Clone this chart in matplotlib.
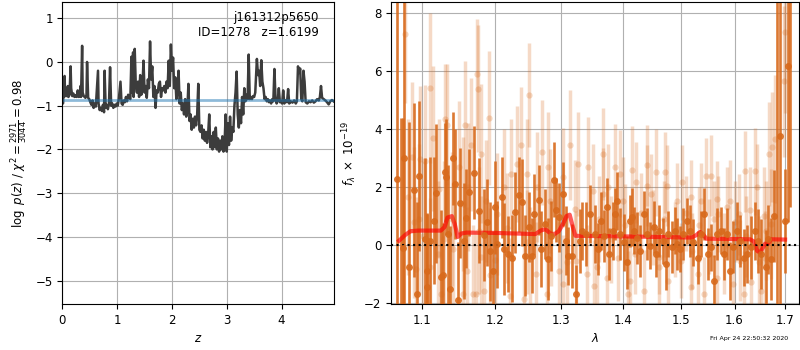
import matplotlib
matplotlib.use('Agg')
import matplotlib.pyplot as plt
from matplotlib.ticker import FixedLocator, FormatStrFormatter, NullLocator

# redshift grid and log p(z)
zgrid = [0.00, 0.01, 0.02, 0.03, 0.04, 0.05, 0.06, 0.08, 0.10, 0.11, 0.13, 0.15, 0.16, 0.18, 0.20,
         0.22, 0.24, 0.26, 0.28, 0.30, 0.32, 0.33, 0.34, 0.36, 0.37, 0.39, 0.42, 0.44, 0.45, 0.47,
         0.49, 0.51, 0.53, 0.55, 0.57, 0.59, 0.61, 0.63, 0.65, 0.66, 0.68, 0.70, 0.72, 0.74, 0.76,
         0.77, 0.79, 0.81, 0.83, 0.85, 0.87, 0.89, 0.91, 0.93, 0.95, 0.97, 0.99, 1.01, 1.03, 1.06,
         1.08, 1.10, 1.12, 1.14, 1.16, 1.18, 1.20, 1.22, 1.24, 1.26, 1.27, 1.29, 1.30, 1.32, 1.34,
         1.36, 1.38, 1.40, 1.42, 1.44, 1.46, 1.48, 1.50, 1.52, 1.54, 1.56, 1.58, 1.60, 1.62, 1.64,
         1.66, 1.68, 1.70, 1.72, 1.74, 1.76, 1.78, 1.80, 1.82, 1.84, 1.86, 1.88, 1.90, 1.92, 1.94,
         1.96, 1.98, 2.00, 2.02, 2.04, 2.06, 2.08, 2.10, 2.12, 2.14, 2.16, 2.18, 2.20, 2.22, 2.24,
         2.26, 2.28, 2.30, 2.32, 2.34, 2.36, 2.38, 2.40, 2.42, 2.44, 2.46, 2.48, 2.50, 2.52, 2.54,
         2.56, 2.58, 2.60, 2.62, 2.64, 2.66, 2.68, 2.70, 2.72, 2.74, 2.76, 2.78, 2.80, 2.82, 2.84,
         2.86, 2.88, 2.90, 2.92, 2.94, 2.96, 2.98, 3.00, 3.02, 3.04, 3.06, 3.08, 3.10, 3.12, 3.14,
         3.16, 3.18, 3.20, 3.22, 3.24, 3.26, 3.28, 3.30, 3.32, 3.34, 3.36, 3.38, 3.40, 3.42, 3.44,
         3.46, 3.48, 3.50, 3.52, 3.55, 3.57, 3.59, 3.61, 3.63, 3.65, 3.67, 3.69, 3.71, 3.73, 3.75,
         3.77, 3.79, 3.81, 3.83, 3.85, 3.87, 3.89, 3.91, 3.93, 3.95, 3.97, 3.99, 4.01, 4.03, 4.05,
         4.07, 4.10, 4.12, 4.14, 4.17, 4.20, 4.23, 4.26, 4.28, 4.30, 4.32, 4.34, 4.36, 4.38, 4.40,
         4.42, 4.44, 4.47, 4.50, 4.53, 4.56, 4.59, 4.62, 4.65, 4.68, 4.70, 4.72, 4.74, 4.77, 4.80,
         4.83, 4.86, 4.89, 4.92, 4.95]
logpz = [-0.70, -0.95, -0.72, -0.80, -0.32, -0.78, -0.72, -0.78, -0.55, -0.80, -0.75, -0.10, -0.60, -0.78, -0.72,
         -0.80, -0.76, -0.80, -0.65, -0.80, -0.78, -0.55, -0.80, 0.37, -0.70, -0.78, -0.82, -0.75, 0.00, -0.82,
         -0.85, -0.92, -0.98, -0.88, -1.05, -0.95, -1.02, -0.60, -0.20, -0.95, -1.10, -1.05, -1.12, -0.98, -1.15,
         -0.20, -1.05, -0.98, -1.08, -0.95, -0.12, -1.00, -0.95, -1.05, -0.98, -1.02, -0.95, -1.00, -0.85, -0.45,
         -0.95, -0.98, -0.88, -0.92, -0.80, -0.90, -0.75, -0.82, -0.85, 0.12, -0.70, 0.22, -0.80, 0.30, -0.55,
         -0.70, -0.45, -0.80, -0.30, -0.75, -0.60, 0.03, -0.70, -0.55, -0.82, -0.40, -0.60, 0.47, -0.40, -0.10,
         -0.80, -0.55, -1.05, -0.65, -0.70, -0.50, -0.45, -0.80, -0.60, -0.65, -0.55, -0.70, -0.45, -0.60, 0.03,
         -0.55, 0.40, -0.20, 0.10, -0.60, -0.35, -0.85, -0.70, -0.20, -0.95, -0.70, -1.10, -0.95, -1.20, -0.85,
         -1.25, -1.10, -0.50, -1.35, -1.20, -1.55, -1.30, -1.50, -1.25, -1.45, -1.20, -0.50, -1.55, -1.60, -1.45,
         -1.75, -1.55, -1.80, -1.60, -1.85, -1.65, -1.20, -1.95, -1.70, -2.00, -1.60, -1.95, -1.50, -2.00, -1.75,
         -2.05, -1.80, -2.00, -1.70, -2.05, -1.85, -1.20, -2.05, -1.40, -1.90, -1.25, -1.80, -1.50, -1.60, -1.00,
         -0.70, -0.22, -1.20, -1.50, -1.10, -1.40, -0.80, -1.20, -0.60, -0.90, -0.75, -0.85, 0.17, -0.85, -0.80,
         -0.85, -0.78, -0.80, -0.70, 0.07, -0.30, -0.20, -0.55, 0.04, -0.45, -0.60, -0.85, -0.80, -0.90, -0.85,
         -0.92, -0.88, -0.95, -0.85, -0.90, -0.16, -0.85, -0.95, -0.88, -0.60, -0.92, -0.90, -0.95, -0.65, -0.95,
         -0.88, -0.92, -0.62, -0.95, -0.90, -0.93, -0.88, -0.95, -0.90, -0.10, -0.25, -0.15, -0.85, -0.90, -0.20,
         -0.45, -0.92, -0.95, -0.90, -0.92, -0.88, -0.93, -0.90, -0.85, -0.88, -0.80, -0.55, -0.82, -0.85, -0.88,
         -0.92, -0.97, -0.90, -0.87, -0.90]
logpz_flat = -0.88

# spectrum points, good pixels
dark_wave = [1.067, 1.072, 1.075, 1.077, 1.083, 1.089, 1.093, 1.096, 1.104, 1.106, 1.107, 1.110, 1.116, 1.119,
             1.125, 1.128, 1.131, 1.132, 1.135, 1.138, 1.142, 1.144, 1.148, 1.151, 1.157, 1.159, 1.164, 1.170,
             1.178, 1.185, 1.189, 1.193, 1.198, 1.201, 1.203, 1.210, 1.213, 1.219, 1.225, 1.229, 1.235, 1.240,
             1.245, 1.250, 1.255, 1.258, 1.265, 1.268, 1.275, 1.279, 1.284, 1.288, 1.292, 1.297, 1.302, 1.307,
             1.311, 1.317, 1.323, 1.329, 1.333, 1.339, 1.345, 1.354, 1.359, 1.363, 1.368, 1.373, 1.377, 1.383,
             1.386, 1.390, 1.395, 1.401, 1.406, 1.411, 1.415, 1.419, 1.424, 1.429, 1.435, 1.441, 1.446, 1.452,
             1.456, 1.462, 1.468, 1.474, 1.478, 1.484, 1.489, 1.494, 1.499, 1.505, 1.511, 1.517, 1.523, 1.531,
             1.537, 1.543, 1.550, 1.555, 1.561, 1.567, 1.574, 1.580, 1.586, 1.591, 1.598, 1.605, 1.611, 1.618,
             1.624, 1.632, 1.639, 1.645, 1.652, 1.661, 1.665, 1.672, 1.677, 1.684, 1.689, 1.699, 1.705, 1.711]
dark_flux = [2.28, -3.00, -0.10, 3.00, -0.74, 1.90, -1.70, 2.38, 0.20, -1.44, -0.89, 0.15, 0.84, 1.79,
             -1.10, -1.03, 2.51, 2.34, 0.38, -1.53, 3.00, 2.10, -1.90, 1.45, 0.15, 0.92, 1.82, 2.50,
             1.19, 0.35, 0.78, -0.22, -0.91, 1.30, 0.03, 1.65, -0.14, -0.31, -0.46, 1.13, 1.74, 1.48,
             -0.37, 0.63, -0.37, 1.07, 1.56, -0.14, 0.73, -0.48, 0.32, 2.26, 1.22, 0.96, 1.76, 0.15,
             -0.37, -0.37, -1.70, 0.15, 0.50, 0.38, 1.07, 0.38, -0.14, 0.84, 0.32, 1.30, -0.31, 0.50,
             1.07, 1.53, 0.38, 0.09, -0.60, 0.84, 0.96, 0.50, 0.24, -0.20, 1.07, 0.38, -0.02, 0.61,
             -0.31, 0.50, 0.15, -0.66, 0.38, -0.08, 0.50, 0.03, -0.14, 0.38, 0.84, 0.50, 0.09, -0.43,
             0.38, 1.07, -0.31, -0.08, -1.23, 0.38, 0.50, -0.31, 0.38, -0.89, -0.08, 0.50, 0.15, -0.43,
             -0.31, -0.08, 0.50, 0.15, -0.31, -0.77, 0.20, -0.48, 1.00, 9.00, 3.75, 0.84, 6.20, 8.80]
dark_err = [9.0, 7.4, 4.5, 9.0, 5.0, 3.0, 3.2, 2.6, 2.8, 2.5, 2.0, 2.9, 2.2, 2.4,
            2.3, 1.8, 1.7, 2.0, 2.4, 2.2, 1.6, 1.9, 2.0, 1.9, 2.0, 1.7, 1.5, 1.6,
            1.8, 1.6, 1.5, 1.7, 1.4, 1.6, 1.5, 1.4, 1.6, 1.3, 1.5, 1.4, 1.3, 1.5,
            1.4, 1.2, 1.3, 1.4, 1.2, 1.3, 1.2, 1.4, 1.2, 1.3, 1.1, 1.2, 1.1, 1.2,
            1.0, 1.1, 1.0, 1.1, 1.0, 1.1, 1.0, 1.0, 0.9, 1.0, 0.9, 1.0, 0.9, 1.0,
            0.9, 1.0, 0.9, 1.0, 0.9, 0.9, 1.0, 0.8, 0.9, 0.9, 0.8, 0.9, 0.8, 0.9,
            0.8, 0.9, 0.8, 0.9, 0.8, 0.9, 0.8, 0.9, 0.8, 0.9, 0.8, 0.9, 0.8, 0.9,
            0.8, 0.9, 0.9, 0.8, 0.9, 0.9, 0.8, 0.9, 0.9, 1.0, 0.9, 1.0, 0.9, 1.0,
            1.0, 1.1, 1.0, 1.1, 1.2, 1.3, 1.2, 1.4, 1.6, 11.5, 6.0, 1.8, 5.4, 7.5]

# spectrum points, second exposure (drawn faint)
light_wave = [1.078, 1.110, 1.175, 1.176, 1.192, 1.251, 1.131, 1.134, 1.158, 1.115, 1.166, 1.181, 1.239, 1.314,
              1.326, 1.342, 1.366, 1.415, 1.440, 1.456, 1.472, 1.546, 1.555, 1.621, 1.639, 1.667, 1.674, 1.680,
              1.697, 1.700, 1.096, 1.092, 1.111, 1.129, 1.142, 1.169, 1.174, 1.194, 1.223, 1.203, 1.233, 1.248,
              1.270, 1.279, 1.302, 1.340, 1.352, 1.367, 1.386, 1.400, 1.408, 1.435, 1.447, 1.476, 1.494, 1.518,
              1.543, 1.567, 1.592, 1.608, 1.632, 1.651, 1.659, 1.611, 1.462, 1.500, 1.296, 1.261, 1.252, 1.178,
              1.155, 1.090, 1.082, 1.087, 1.097, 1.104, 1.122, 1.150, 1.162, 1.187, 1.213, 1.224, 1.262, 1.282,
              1.321, 1.351, 1.375, 1.395, 1.421, 1.441, 1.502, 1.519, 1.537, 1.568, 1.586, 1.644, 1.658, 1.671,
              1.303, 1.323, 1.356, 1.373, 1.392, 1.412, 1.477, 1.531, 1.566, 1.598, 1.618, 1.125, 1.156, 1.185,
              1.243, 1.277, 1.360, 1.380, 1.403, 1.420, 1.431, 1.451, 1.461, 1.470, 1.490, 1.510, 1.521, 1.533,
              1.551, 1.562, 1.580, 1.601, 1.623, 1.629, 1.648, 1.662, 1.200, 1.218, 1.247, 1.284, 1.309, 1.140,
              1.161, 1.181, 1.101, 1.121]
light_flux = [7.30, 5.43, 5.92, 5.40, 4.39, 5.19, 4.36, 4.16, 4.15, 3.69, 3.46, 3.15, 3.46, 3.46,
              2.80, 2.71, 3.15, 2.60, 2.75, 2.51, 2.51, 2.40, 2.40, 2.55, 2.55, 3.15, 3.40, 3.67,
              5.65, 7.36, 0.90, -0.83, -0.77, 0.20, -0.14, -1.70, -1.70, -1.03, -1.75, 1.07, 2.80, 2.46,
              3.20, 2.69, 2.34, -1.00, -1.41, 1.76, 2.69, 1.53, -1.70, -1.58, 1.76, 2.05, 1.53, -1.46,
              -1.70, 1.59, 1.53, 1.07, -1.29, -1.58, -0.43, -0.54, -0.77, -0.54, -0.89, -1.00, -0.48, 0.50,
              1.42, 0.78, 1.65, 3.03, 2.98, 2.92, 1.94, 2.69, 2.00, 1.53, 2.00, 2.46, 2.00, 1.53,
              1.25, 1.88, 2.00, 2.46, 2.17, 2.05, 2.17, 1.65, 1.53, 1.07, 1.30, 2.00, 1.00, 0.73,
              -1.35, -0.54, -0.77, -1.12, -0.43, -1.23, -1.23, -1.00, -1.12, -1.35, -1.70, -1.70, -1.70, -1.58,
              -1.87, -1.70, 0.90, 0.20, 0.70, -0.30, 1.10, 0.60, -0.40, 0.90, 0.20, 1.10, -0.20, 0.70,
              0.30, 0.90, -0.30, 0.80, 0.30, 1.20, -0.60, 0.50, -0.50, 0.60, 0.10, 0.40, -0.60, 0.90,
              -0.90, -0.40, 0.30, -0.30]
light_err = [2.4, 2.6, 1.9, 2.2, 2.3, 1.8, 1.9, 2.1, 2.2, 2.5, 2.3, 2.4, 2.0, 1.9,
             1.8, 1.7, 1.6, 1.5, 1.4, 1.5, 1.4, 1.3, 1.4, 1.4, 1.5, 1.8, 1.9, 2.2,
             2.6, 2.8, 2.6, 2.5, 2.4, 2.7, 2.3, 2.4, 2.2, 2.3, 2.0, 2.1, 2.0, 1.9,
             1.8, 1.9, 1.7, 1.7, 1.6, 1.6, 1.5, 1.5, 1.5, 1.4, 1.4, 1.4, 1.3, 1.3,
             1.3, 1.3, 1.4, 1.4, 1.5, 1.6, 1.6, 1.4, 1.3, 1.3, 1.7, 1.8, 1.8, 2.2,
             2.3, 2.6, 2.7, 2.6, 2.5, 2.6, 2.4, 2.3, 2.2, 2.1, 2.0, 1.9, 1.9, 1.8,
             1.7, 1.6, 1.5, 1.5, 1.4, 1.4, 1.3, 1.3, 1.3, 1.3, 1.4, 1.5, 1.7, 1.9,
             1.7, 1.7, 1.6, 1.5, 1.5, 1.4, 1.3, 1.3, 1.3, 1.4, 1.5, 2.4, 2.2, 2.1,
             1.9, 1.8, 1.5, 1.5, 1.4, 1.4, 1.4, 1.3, 1.3, 1.3, 1.3, 1.3, 1.3, 1.3,
             1.3, 1.3, 1.4, 1.4, 1.4, 1.5, 1.6, 1.7, 2.0, 1.9, 1.8, 1.8, 1.7, 2.3,
             2.2, 2.1, 2.6, 2.5]

# best-fit model
model_wave = [1.070, 1.078, 1.085, 1.095, 1.125, 1.130, 1.134, 1.140, 1.144, 1.148, 1.153, 1.160, 1.200,
              1.260, 1.268, 1.275, 1.282, 1.288, 1.296, 1.303, 1.308, 1.313, 1.318, 1.322, 1.400, 1.520,
              1.528, 1.535, 1.541, 1.547, 1.630, 1.638, 1.644, 1.650, 1.655, 1.660, 1.666, 1.672, 1.700]
model_flux = [0.15, 0.35, 0.48, 0.50, 0.50, 0.62, 0.95, 1.00, 0.72, 0.28, 0.40, 0.43, 0.42,
              0.38, 0.50, 0.55, 0.42, 0.36, 0.48, 0.75, 1.00, 1.05, 0.62, 0.32, 0.30, 0.26,
              0.34, 0.45, 0.36, 0.22, 0.20, 0.12, -0.20, -0.26, -0.10, 0.05, 0.06, 0.20, 0.19]

wave_ticks = [1.1, 1.2, 1.3, 1.4, 1.5, 1.6, 1.7]

orange = '#d86a1c'
fs = 8.5
plt.rcParams['font.size'] = fs

fig = plt.figure(figsize=(8, 3.5), dpi=100)
ax1 = fig.add_axes([0.078, 0.131, 0.339, 0.863])
ax2 = fig.add_axes([0.489, 0.131, 0.510, 0.863])

# p(z)
ax1.plot(zgrid, logpz, color='#3c3c3c', lw=1.8)
ax1.axhline(logpz_flat, color='tab:blue', alpha=0.5, lw=2)
ax1.set_xlim(0, 4.95)
ax1.set_ylim(-5.54, 1.37)
ax1.set_xticks([0, 1, 2, 3, 4])
ax1.set_yticks([-5, -4, -3, -2, -1, 0, 1])
ax1.grid()
ax1.set_xlabel('$z$')
ax1.set_ylabel(r'$\log\ p(z)$ / $\chi^2=\frac{2971}{3044}=0.98$')
ax1.text(0.945, 0.97, 'j161312p5650\nID=1278   z=1.6199', transform=ax1.transAxes,
         ha='right', va='top', multialignment='right', fontsize=fs)

# spectrum
ax2.errorbar(light_wave, light_flux, yerr=light_err, fmt='o', color=orange, ms=4.5,
             elinewidth=2.5, capsize=0, alpha=0.25, mec='none')
ax2.errorbar(dark_wave, dark_flux, yerr=dark_err, fmt='o', color=orange, ms=5,
             elinewidth=1.9, capsize=0, alpha=0.9, mec='none')
ax2.plot(model_wave, model_flux, color='red', lw=3, alpha=0.65)
ax2.axhline(0, color='k', ls=':', lw=1.5)
ax2.set_xscale('log')
ax2.xaxis.set_major_locator(FixedLocator(wave_ticks))
ax2.xaxis.set_major_formatter(FormatStrFormatter('%.1f'))
ax2.xaxis.set_minor_locator(NullLocator())
ax2.set_xlim(1.06, 1.729)
ax2.set_ylim(-2.04, 8.39)
ax2.set_yticks([-2, 0, 2, 4, 6, 8])
ax2.grid()
ax2.set_xlabel(r'$\lambda$')
ax2.set_ylabel(r'$f_\lambda\ \times\ 10^{-19}$')

fig.text(0.985, 0.025, 'Fri Apr 24 22:50:32 2020', ha='right', va='bottom', fontsize=4.5)

fig.savefig('out.png', dpi=100)
